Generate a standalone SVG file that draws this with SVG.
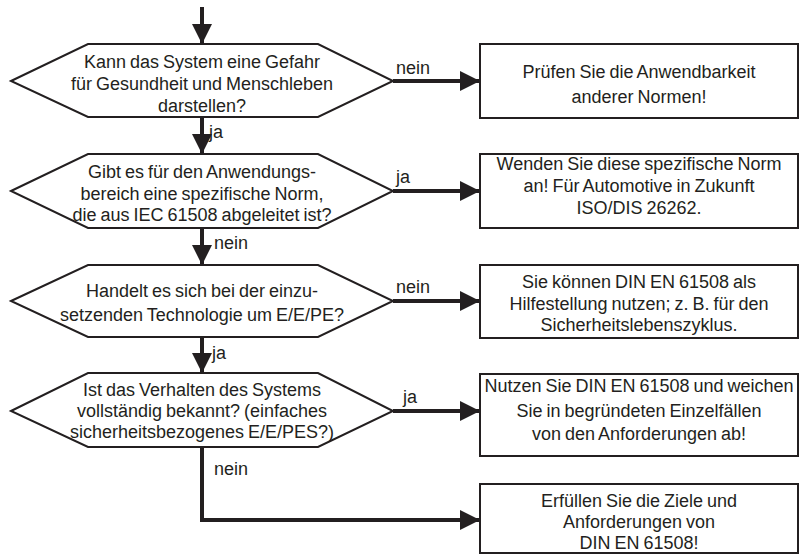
<svg xmlns="http://www.w3.org/2000/svg" width="800" height="556" viewBox="0 0 800 556">
<defs>
<style>
.shape{fill:#fff;stroke:#231f20;stroke-width:2}
.conn{fill:none;stroke:#231f20;stroke-width:4}
text{font-family:"Liberation Sans",Arial,sans-serif;font-size:18px;fill:#231f20;word-spacing:-1px}
.c{text-anchor:middle}
</style>
<marker id="ah" viewBox="0 0 20 20" refX="20" refY="10" markerWidth="20" markerHeight="20" markerUnits="userSpaceOnUse" orient="auto">
<path d="M0,0 L20,10 L0,20 Z" fill="#231f20"/>
</marker>
</defs>
<rect width="800" height="556" fill="#fff"/>

<g id="q1">
<polygon class="shape" points="11,81 88,44 318,44 393,81 318,117 88,117"/>
<text class="c" x="202" y="68">Kann das System eine Gefahr</text>
<text class="c" x="202" y="90">für Gesundheit und Menschleben</text>
<text class="c" x="202" y="112">darstellen?</text>
</g>
<g id="q2">
<polygon class="shape" points="11,191 88,154 318,154 393,191 318,228 88,228"/>
<text class="c" x="202" y="178">Gibt es für den Anwendungs-</text>
<text class="c" x="202" y="200">bereich eine spezifische Norm,</text>
<text class="c" x="202" y="221">die aus IEC 61508 abgeleitet ist?</text>
</g>
<g id="q3">
<polygon class="shape" points="11,301 88,265 318,265 393,301 318,337 88,337"/>
<text class="c" x="202" y="297">Handelt es sich bei der einzu-</text>
<text class="c" x="202" y="321">setzenden Technologie um E/E/PE?</text>
</g>
<g id="q4">
<polygon class="shape" points="11,411 88,373 318,373 393,411 318,447 88,447"/>
<text class="c" x="202" y="396">Ist das Verhalten des Systems</text>
<text class="c" x="202" y="417">vollständig bekannt? (einfaches</text>
<text class="c" x="202" y="438">sicherheitsbezogenes E/E/PES?)</text>
</g>

<g id="b1">
<rect class="shape" x="480" y="44" width="318" height="74"/>
<text class="c" x="639" y="78">Prüfen Sie die Anwendbarkeit</text>
<text class="c" x="639" y="103">anderer Normen!</text>
</g>
<g id="b2">
<rect class="shape" x="480" y="154" width="318" height="74"/>
<text class="c" x="639" y="170">Wenden Sie diese spezifische Norm</text>
<text class="c" x="639" y="192">an! Für Automotive in Zukunft</text>
<text class="c" x="639" y="214">ISO/DIS 26262.</text>
</g>
<g id="b3">
<rect class="shape" x="480" y="265" width="318" height="73"/>
<text class="c" x="639" y="288">Sie können DIN EN 61508 als</text>
<text class="c" x="639" y="310">Hilfestellung nutzen; z. B. für den</text>
<text class="c" x="639" y="331">Sicherheitslebenszyklus.</text>
</g>
<g id="b4">
<rect class="shape" x="480" y="374" width="318" height="82"/>
<text class="c" x="639" y="392">Nutzen Sie DIN EN 61508 und weichen</text>
<text class="c" x="639" y="417">Sie in begründeten Einzelfällen</text>
<text class="c" x="639" y="440">von den Anforderungen ab!</text>
</g>
<g id="b5">
<rect class="shape" x="480" y="484" width="318" height="69"/>
<text class="c" x="639" y="507">Erfüllen Sie die Ziele und</text>
<text class="c" x="639" y="528">Anforderungen von</text>
<text class="c" x="639" y="549">DIN EN 61508!</text>
</g>

<g id="connectors">
<path class="conn" d="M202,7 V44" marker-end="url(#ah)"/>
<path class="conn" d="M202,117 V154" marker-end="url(#ah)"/>
<path class="conn" d="M202,228 V265" marker-end="url(#ah)"/>
<path class="conn" d="M202,337 V373" marker-end="url(#ah)"/>
<path class="conn" d="M393,81 H480" marker-end="url(#ah)"/>
<path class="conn" d="M393,191 H480" marker-end="url(#ah)"/>
<path class="conn" d="M393,301 H480" marker-end="url(#ah)"/>
<path class="conn" d="M393,411 H480" marker-end="url(#ah)"/>
<path class="conn" d="M202,447 V520 H480" marker-end="url(#ah)"/>
<text x="209" y="138">ja</text>
<text x="214" y="249">nein</text>
<text x="212" y="359">ja</text>
<text x="214" y="475">nein</text>
<text x="396" y="74">nein</text>
<text x="396" y="183">ja</text>
<text x="396" y="293">nein</text>
<text x="403" y="403">ja</text>
</g>
</svg>
